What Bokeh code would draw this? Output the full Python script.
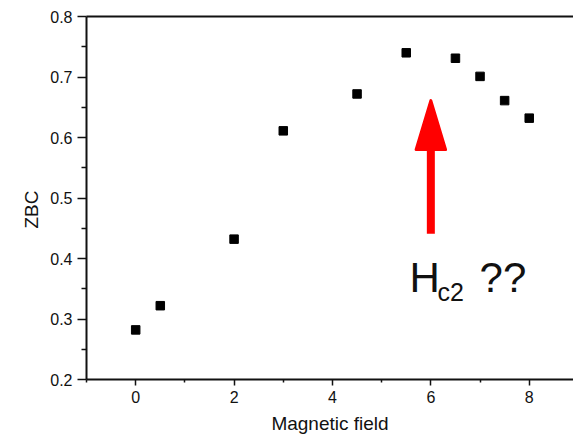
from bokeh.plotting import figure
from bokeh.models import LinearAxis, FixedTicker, Range1d, Label, Title, ColumnDataSource
from bokeh.embed import file_html
from bokeh.resources import INLINE

# data
field = [0, 0.5, 2, 3, 4.5, 5.5, 6.5, 7, 7.5, 8]
zbc = [0.282, 0.322, 0.432, 0.611, 0.672, 0.740, 0.731, 0.701, 0.661, 0.632]
x_ticks = [0, 2, 4, 6, 8]
y_ticks = [0.2, 0.3, 0.4, 0.5, 0.6, 0.7, 0.8]

# annotation arrow (data coordinates)
arrow_x = 6.0
arrow_tail = 0.441
arrow_head_base = 0.580
arrow_tip = 0.661
arrow_half_width = 0.30

FONT = "Liberation Sans"

p = figure(width=573, height=437, output_backend="svg", toolbar_location=None,
           x_range=Range1d(-1, 8.9), y_range=Range1d(0.2, 0.8),
           min_border_left=86, min_border_right=0, min_border_top=16,
           min_border_bottom=58, background_fill_color="white",
           border_fill_color="white")
p.outline_line_color = None
p.xgrid.visible = False
p.ygrid.visible = False

for ax in (p.xaxis[0], p.yaxis[0]):
    ax.axis_line_width = 2
    ax.axis_line_color = "#111111"
    ax.major_tick_line_width = 1.5
    ax.minor_tick_line_width = 1.5
    ax.major_tick_line_color = "#111111"
    ax.minor_tick_line_color = "#111111"
    ax.major_tick_in = 0
    ax.minor_tick_in = 0
    ax.major_label_text_font = FONT
    ax.major_label_text_font_size = "16px"
    ax.major_label_text_color = "#111111"
    ax.axis_label_text_font = FONT
    ax.axis_label_text_font_size = "19px"
    ax.axis_label_text_font_style = "normal"
    ax.axis_label_text_color = "#111111"

p.xaxis.ticker = FixedTicker(ticks=x_ticks, minor_ticks=[-1, 1, 3, 5, 7])
p.yaxis.ticker = FixedTicker(ticks=y_ticks,
                             minor_ticks=[0.25, 0.35, 0.45, 0.55, 0.65, 0.75])
p.xaxis.major_tick_out = 6
p.xaxis.minor_tick_out = 3
p.yaxis.major_tick_out = 9
p.yaxis.minor_tick_out = 5
p.xaxis.major_label_standoff = 5
p.yaxis.major_label_standoff = 5
p.xaxis.axis_label = "Magnetic field"
p.xaxis.axis_label_standoff = 7

top = LinearAxis(ticker=FixedTicker(ticks=[]), axis_line_width=2,
                 axis_line_color="#111111", major_tick_out=0, minor_tick_out=0,
                 major_tick_in=0, minor_tick_in=0, major_label_text_alpha=0)
p.add_layout(top, "above")

# y-axis title, placed as a side title so it can sit slightly below centre
ytitle = Title(text="ZBC", align="left", offset=151, text_font=FONT,
               text_font_size="19px", text_font_style="normal",
               text_color="#111111", standoff=12)
p.add_layout(ytitle, "left")

src = ColumnDataSource(dict(x=field, y=zbc))
p.scatter("x", "y", source=src, marker="square", size=8.5,
          fill_color="black", line_color="black")

# red arrow
p.segment(x0=[arrow_x], y0=[arrow_tail], x1=[arrow_x], y1=[arrow_head_base + 0.005],
          line_color="red", line_width=8, line_cap="butt")
p.patch(x=[arrow_x - arrow_half_width, arrow_x, arrow_x + arrow_half_width],
        y=[arrow_head_base, arrow_tip, arrow_head_base],
        fill_color="red", line_color="red", line_width=3, line_join="round")

p.add_layout(Label(x=5.567, y=0.369, text="H", text_font=FONT,
                   text_font_size="42px", text_color="#111111",
                   text_baseline="alphabetic"))
p.add_layout(Label(x=6.136, y=0.344, text="c2", text_font=FONT,
                   text_font_size="25px", text_color="#111111",
                   text_baseline="alphabetic"))
p.add_layout(Label(x=6.99, y=0.369, text="??", text_font=FONT,
                   text_font_size="42px", text_color="#111111",
                   text_baseline="alphabetic"))

open("out.html", "w").write(file_html(p, INLINE))
